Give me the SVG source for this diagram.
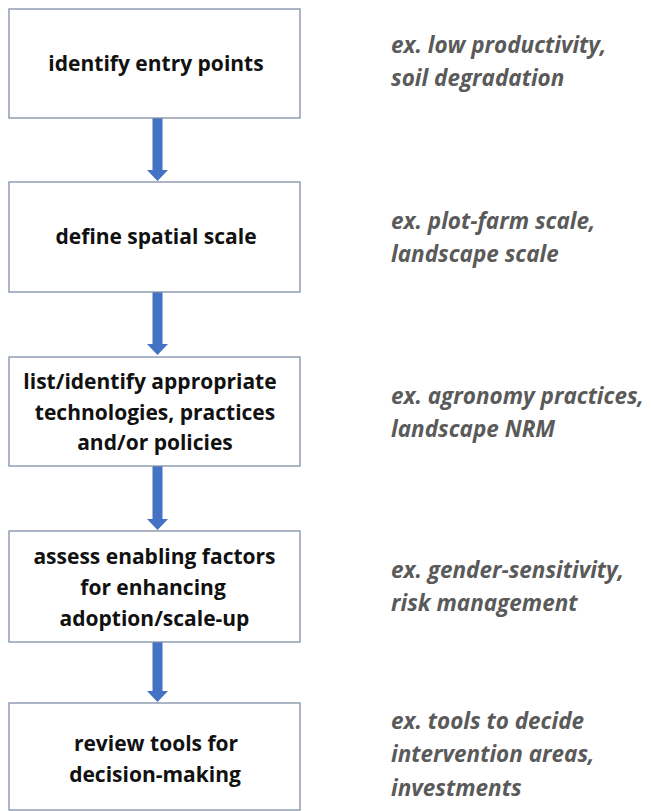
<svg xmlns="http://www.w3.org/2000/svg" width="651" height="811" viewBox="0 0 651 811">
<style>
.box{fill:#fff;stroke:#7f8ea8;stroke-width:1.3}
.t{font-family:"Open Sans","Liberation Sans",sans-serif;font-weight:bold;font-size:21px;fill:#111;text-anchor:middle}
.n{font-family:"Open Sans","Liberation Sans",sans-serif;font-weight:bold;font-style:italic;font-size:22.5px;fill:#5a5a5a}
.arr{fill:#4472c4}
</style>
<rect width="651" height="811" fill="#fff"/>
<g id="connectors">
<path class="arr" d="M152.5,118 H162.5 V170 H168 L157.5,181 L147,170 H152.5 Z"/>
<path class="arr" d="M152.5,292 H162.5 V344 H168 L157.5,355 L147,344 H152.5 Z"/>
<path class="arr" d="M152.5,466 H162.5 V519 H168 L157.5,530 L147,519 H152.5 Z"/>
<path class="arr" d="M152.5,642 H162.5 V691 H168 L157.5,702 L147,691 H152.5 Z"/>
</g>
<g id="n1">
<rect class="box" x="9" y="9" width="291" height="109"/>
<text class="t" x="156" y="71">identify entry points</text>
</g>
<g id="n2">
<rect class="box" x="9" y="182" width="291" height="110"/>
<text class="t" x="156" y="244">define spatial scale</text>
</g>
<g id="n3">
<rect class="box" x="9" y="357" width="291" height="109"/>
<text class="t" x="150" y="389">list/identify appropriate</text>
<text class="t" x="155" y="420">technologies, practices</text>
<text class="t" x="155" y="450">and/or policies</text>
</g>
<g id="n4">
<rect class="box" x="9" y="531" width="291" height="111"/>
<text class="t" x="154.5" y="564">assess enabling factors</text>
<text class="t" x="153" y="595">for enhancing</text>
<text class="t" x="154.5" y="626">adoption/scale-up</text>
</g>
<g id="n5">
<rect class="box" x="9" y="703" width="291" height="107"/>
<text class="t" x="156" y="751">review tools for</text>
<text class="t" x="155" y="782">decision-making</text>
</g>
<g id="notes">
<text class="n" x="391" y="53">ex. low productivity,</text>
<text class="n" x="391" y="86">soil degradation</text>
<text class="n" x="391" y="229">ex. plot-farm scale,</text>
<text class="n" x="391" y="262">landscape scale</text>
<text class="n" x="391" y="404">ex. agronomy practices,</text>
<text class="n" x="391" y="437">landscape NRM</text>
<text class="n" x="391" y="578">ex. gender-sensitivity,</text>
<text class="n" x="391" y="611">risk management</text>
<text class="n" x="391" y="729">ex. tools to decide</text>
<text class="n" x="391" y="762">intervention areas,</text>
<text class="n" x="391" y="796">investments</text>
</g>
</svg>
